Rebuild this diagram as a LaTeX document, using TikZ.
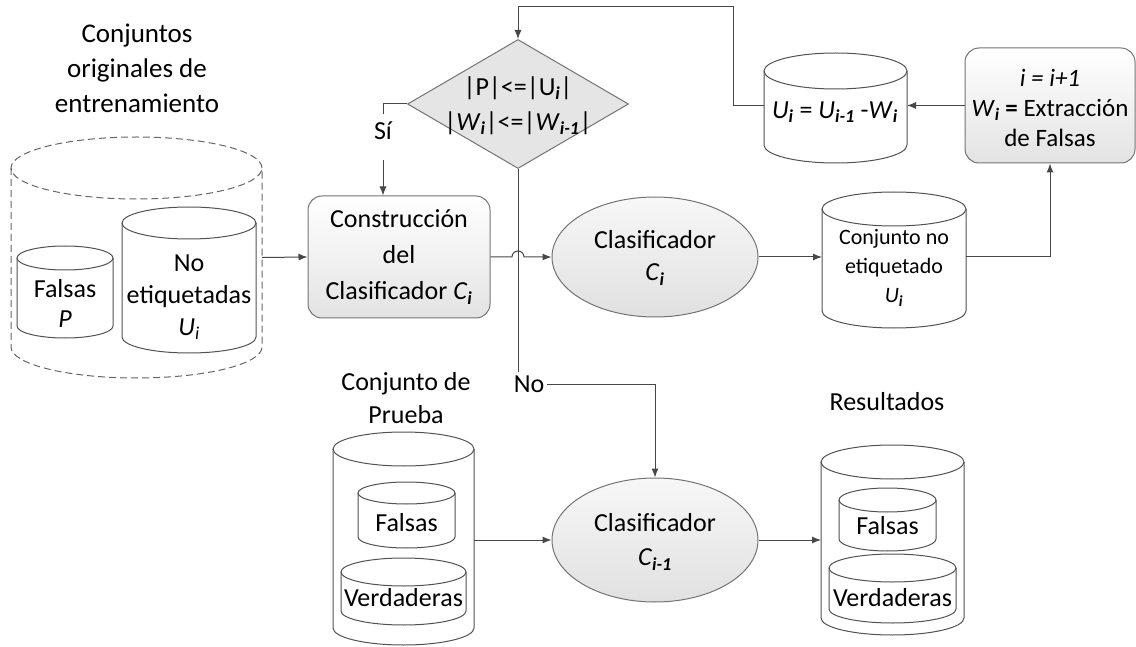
\documentclass[tikz,border=0pt]{standalone}
\usepackage{fontspec}
\setmainfont{Carlito}
\usetikzlibrary{shapes.geometric,arrows.meta,calc}
\newcommand\sbi[1]{\textsubscript{\textbf{\textit{#1}}}}
\newcommand\dbcyl[7][]{%
 \pgfmathsetmacro\cx{(#3+#4)/2}%
 \pgfmathsetmacro\rx{(#4-#3)/2}%
 \pgfmathsetmacro\cy{(#5+#6)/2}%
 \pgfmathsetmacro\hh{#6-#5}%
 \pgfmathsetmacro\ww{#4-#3}%
 \filldraw[fill=white,cyl line,#1] (#3,#5) -- (#3,#6) arc[start angle=180,end angle=360,x radius=\rx pt,y radius=#7 pt] -- (#4,#5);
 \draw[cyl line,#1] (\cx,#5) ellipse[x radius=\rx pt,y radius=#7 pt];
 \node[inner sep=0,outer sep=0,minimum width=\ww pt,minimum height=\hh pt] (#2) at (\cx,\cy) {};
}
\begin{document}
\begin{tikzpicture}[x=1pt,y=-1pt,
  ln/.style={draw=black!72, line width=1pt},
  arr/.style={ln, -{Latex[length=9pt,width=7pt]}},
  box/.style={draw=black!55, rounded corners=14pt, top color=white, bottom color=black!11, line width=1pt, inner sep=0},
  ell/.style={ellipse, draw=black!55, top color=black!3, bottom color=black!12, minimum width=206pt, minimum height=120pt, inner sep=0, line width=1pt},
  txt/.style={font=\fontsize{26}{33}\selectfont, align=center, inner sep=0},
  cyl line/.style={draw=black!68, line width=1pt}]
\useasboundingbox (0,0) rectangle (1136,647);

% titles
\node[txt, font=\fontsize{27}{35}\selectfont] (t1) at (137,68) {Conjuntos\\originales de\\entrenamiento};
\node[txt] (t2) at (406,398) {Conjunto de\\Prueba};
\node[txt] (t3) at (887,402) {Resultados};

% original training sets
\dbcyl[dash pattern=on 7pt off 4pt, draw=black!60]{big}{11}{262}{168}{347}{31}
\dbcyl{fp}{17}{113}{258}{326}{12}
\dbcyl{ne}{122}{256}{223}{337}{16}
\node[txt, font=\fontsize{26}{30}\selectfont] at (65,303) {Falsas\\\textit{P}};
\node[txt, font=\fontsize{26}{32}\selectfont] at (189,297) {No\\etiquetadas\\\textit{U}\textsubscript{\textit{i}}};

% construction box
\node[box, minimum width=182pt, minimum height=122pt] (cb) at (399,257) {};
\node[txt, font=\fontsize{26}{36}\selectfont] at (399,257) {Construcción\\del\\Clasificador \textit{C}\sbi{i}};

% diamond
\node[diamond, draw=black!55, fill=black!10, minimum width=221pt, minimum height=129pt, inner sep=0, line width=1pt] (d) at (518,104) {};
\node[txt, font=\fontsize{26}{35}\selectfont] at (518,106) {|P|<=|U\sbi{i}|\\|\textit{W}\sbi{i}|<=|\textit{W}\sbi{i-1}|};

% classifiers
\node[ell] (c1) at (655,257) {};
\node[txt, font=\fontsize{26}{32}\selectfont] at (655,258) {Clasificador\\\textit{C}\sbi{i}};
\node[ell, minimum height=124pt] (c2) at (655,540) {};
\node[txt, font=\fontsize{26}{34}\selectfont] at (655,542) {Clasificador\\\textit{C}\sbi{i-1}};

% unlabeled set
\dbcyl{ncyl}{822}{966}{209}{311}{17}
\node[txt, font=\fontsize{22}{29}\selectfont] at (894,268) {Conjunto no\\etiquetado\\\textit{U}\sbi{i}};

% extraction box
\node[box, minimum width=170pt, minimum height=115pt] (ext) at (1050,105.5) {};
\node[txt, font=\fontsize{25}{30}\selectfont] at (1050,108) {\textit{i = i+1}\\\textit{W}\sbi{i} \textbf{=} Extracción\\de Falsas};

% U_i cylinder
\dbcyl{ucyl}{764}{907}{71}{145}{18}
\node[txt] at (835,112) {\textit{U}\sbi{i} = \textit{U}\sbi{i-1} -\textit{W}\sbi{i}};

% test set
\dbcyl{pcyl}{333}{474}{449}{628}{17}
\dbcyl{pf}{358}{455}{493}{537}{11}
\dbcyl{pv}{341}{466}{572}{611}{14}
\node[txt] at (406.5,523) {Falsas};
\node[txt] at (403.5,598) {Verdaderas};

% results
\dbcyl{rcyl}{821}{964}{462}{618}{17}
\dbcyl{rf}{839}{936}{500}{539}{12}
\dbcyl{rv}{829}{956}{568}{609}{14}
\node[txt] at (887.5,526) {Falsas};
\node[txt] at (892.5,598) {Verdaderas};

% connectors
\draw[arr] (big.east) -- (cb.west);
\coordinate (sitop) at (383,114);
\coordinate (sibot) at (383,160);
\node[txt] (si) at (383,131) {Sí};
\draw[ln] (d.west) -| (sitop);
\draw[arr] (sibot) -- (sibot |- cb.north);
\node[txt, inner sep=3pt] (no) at (529,384) {No};
\draw[ln] (d.south) -- (d.south |- no.north);
\draw[arr] (no.east) -| (c2.north);
\draw[arr] (cb.east) -- (512,257) arc[start angle=180,end angle=0,radius=6pt] -- (c1.west);
\draw[arr] (c1.east) -- (c1.east -| ncyl.west);
\draw[arr] (c1.east -| ncyl.east) -| (ext.south);
\draw[arr] (ext.west) -- (ext.west -| ucyl.east);
\coordinate (fb) at (733,7);
\draw[arr] (ext.west -| ucyl.west) -| (fb) -| (d.north);
\draw[arr] (c2.west -| pcyl.east) -- (c2.west);
\draw[arr] (c2.east) -- (c2.east -| rcyl.west);
\end{tikzpicture}
\end{document}
